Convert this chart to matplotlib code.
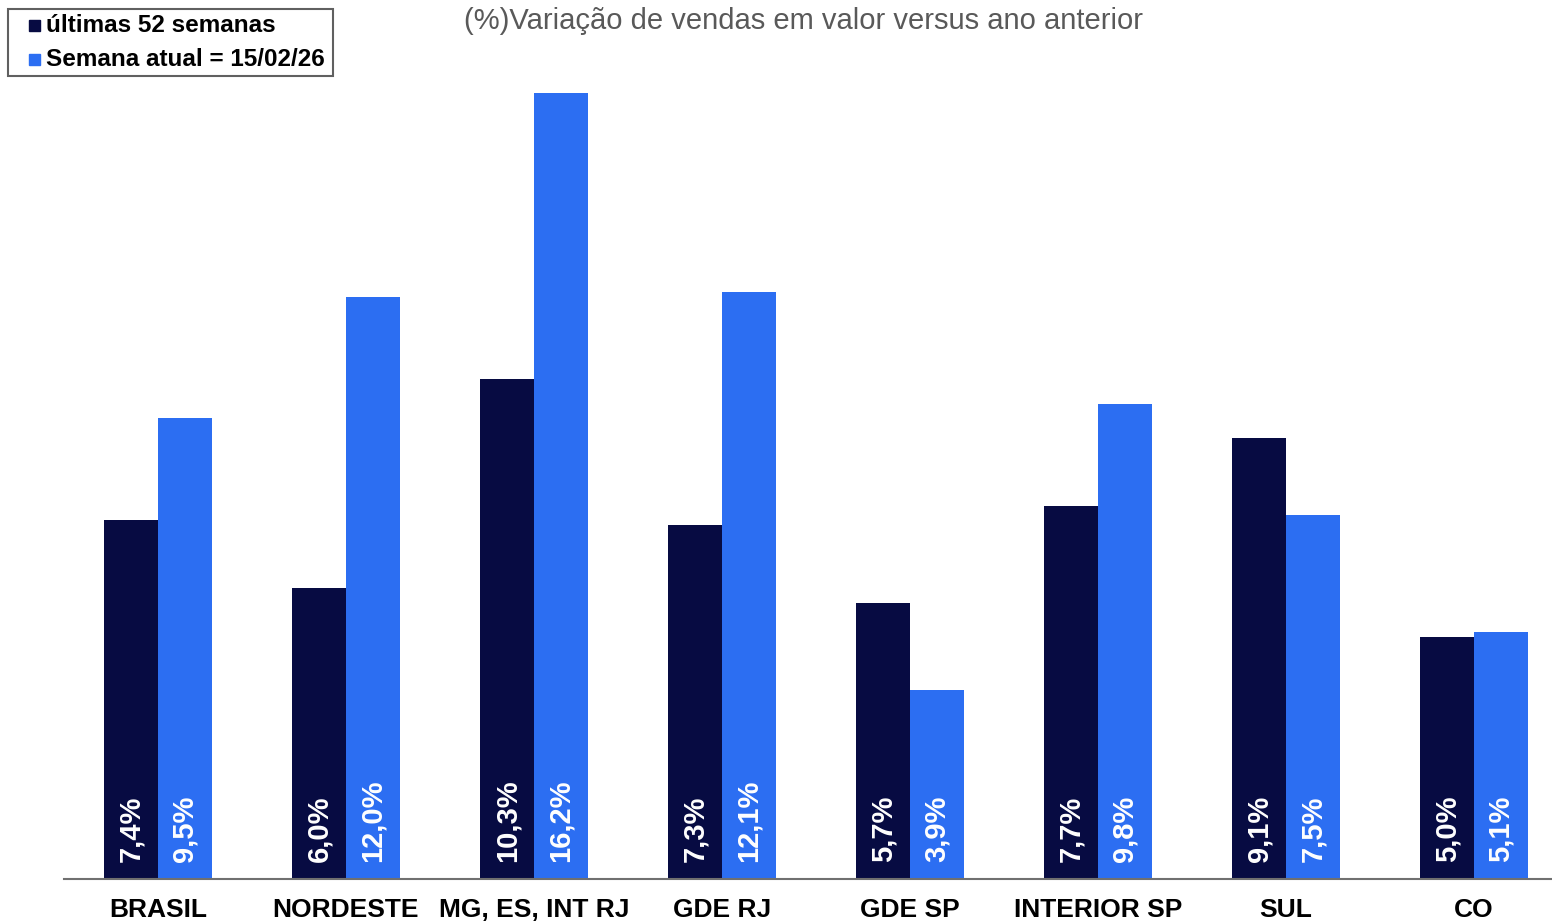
import numpy as np
import matplotlib.pyplot as plt
from matplotlib.patches import Rectangle

# dados por região
regioes = ["BRASIL", "NORDESTE", "MG, ES, INT RJ", "GDE RJ", "GDE SP",
           "INTERIOR SP", "SUL", "CO"]
ult_52 = [7.4, 6.0, 10.3, 7.3, 5.7, 7.7, 9.1, 5.0]
sem_atual = [9.5, 12.0, 16.2, 12.1, 3.9, 9.8, 7.5, 5.1]
series = ["últimas 52 semanas", "Semana atual = 15/02/26"]

cor_52 = "#070B42"
cor_atual = "#2C6EF2"

plt.rcParams["font.family"] = ["Liberation Sans", "DejaVu Sans"]

W, H = 1552, 922
fig = plt.figure(figsize=(W / 100, H / 100), dpi=100)
# eixo: base em y=879px, borda esquerda 64px
ax = fig.add_axes([64 / W, (H - 879) / H, (W - 64) / W, (879 - 60) / H])

x = np.arange(len(regioes))
larg = 0.285
b1 = ax.bar(x - larg / 2, ult_52, larg, color=cor_52)
b2 = ax.bar(x + larg / 2, sem_atual, larg, color=cor_atual)

ax.set_xlim(-0.5, (W - 158) / 188)
ax.set_ylim(0, (879 - 60) / 48.5)

# rótulos de valor dentro das barras, na base
for barras, vals in ((b1, ult_52), (b2, sem_atual)):
    for b, v in zip(barras, vals):
        ax.text(b.get_x() + b.get_width() / 2, 0.35,
                f"{v:.1f}%".replace(".", ","), rotation=90,
                ha="center", va="bottom", color="white",
                fontsize=21, fontweight="bold")

for s in ("top", "right", "left"):
    ax.spines[s].set_visible(False)
ax.spines["bottom"].set_color("#707070")
ax.spines["bottom"].set_linewidth(1.5)
ax.set_yticks([])
ax.set_xticks(x)
ax.set_xticklabels(regioes, fontsize=19, fontweight="bold")
ax.tick_params(axis="x", length=0, pad=14)

fig.text(803 / W, 1 - 21 / H, "(%)Variação de vendas em valor versus ano anterior",
         ha="center", va="center", fontsize=21, color="#595959")

# legenda desenhada à mão (caixa + quadrados + textos), em pixels
def px(xp, yp):
    return xp / W, 1 - yp / H

fig.patches.append(Rectangle(px(8, 76), 325 / W, 67 / H, transform=fig.transFigure,
                             facecolor="white", edgecolor="#606060", lw=1.5))
for cor, nome, yc in ((cor_52, series[0], 26), (cor_atual, series[1], 60)):
    fig.patches.append(Rectangle(px(29, yc + 5.5), 11 / W, 11 / H,
                                 transform=fig.transFigure, color=cor))
    fig.text(*px(46, yc), nome, ha="left", va="center",
             fontsize=17.5, fontweight="bold", color="black")

fig.savefig("out.png", dpi=100)
